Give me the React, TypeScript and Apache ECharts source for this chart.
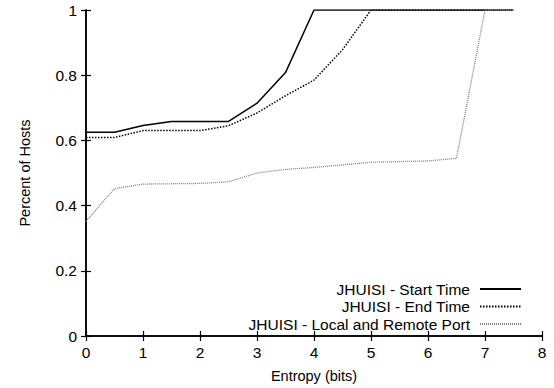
import React, { useEffect, useRef } from "react";
import * as echarts from "echarts";

const xValues = [0, 0.5, 1, 1.5, 2, 2.5, 3, 3.5, 4, 4.5, 5, 5.5, 6, 6.5, 7, 7.5];
const startTime = [0.625, 0.625, 0.646, 0.658, 0.658, 0.658, 0.714, 0.808, 1, 1, 1, 1, 1, 1, 1, 1];
const endTime = [0.609, 0.609, 0.63, 0.63, 0.63, 0.645, 0.684, 0.737, 0.785, 0.878, 1, 1, 1, 1, 1, 1];
const portValues = [0.352, 0.452, 0.466, 0.467, 0.468, 0.473, 0.5, 0.511, 0.517, 0.525, 0.533, 0.535, 0.537, 0.545, 1, 1];
const seriesNames = ["JHUISI - Start Time", "JHUISI - End Time", "JHUISI - Local and Remote Port"];

const FONT = "Liberation Sans, Arial, Helvetica, sans-serif";

export default function App() {
  const ref = useRef<HTMLDivElement>(null);
  useEffect(() => {
    if (!ref.current) return;
    const chart = echarts.init(ref.current, undefined, { renderer: "svg" });
    const pairs = (ys: number[]) => xValues.map((x, i) => [x, ys[i]]);
    const axisLine = { show: true, lineStyle: { color: "#000", width: 1.5 } };
    const tick = { show: true, inside: true, length: 5, lineStyle: { color: "#000", width: 1.2 } };
    chart.setOption({
      animation: false,
      backgroundColor: "#fff",
      textStyle: { fontFamily: FONT },
      grid: { left: 86, right: 12, top: 10, bottom: 51.5 },
      xAxis: [
        {
          type: "value",
          min: 0,
          max: 8,
          interval: 1,
          position: "bottom",
          name: "Entropy (bits)",
          nameLocation: "middle",
          nameGap: 32,
          nameTextStyle: { color: "#000", fontSize: 14.5, fontFamily: FONT },
          axisLine,
          axisTick: tick,
          splitLine: { show: false },
          axisLabel: { color: "#000", fontSize: 15.5, fontFamily: FONT, margin: 8 },
        },
        {
          type: "value",
          min: 0,
          max: 8,
          interval: 1,
          position: "top",
          axisLine,
          axisTick: tick,
          splitLine: { show: false },
          axisLabel: { show: false },
        },
      ],
      yAxis: [
        {
          type: "value",
          min: 0,
          max: 1,
          interval: 0.2,
          position: "left",
          name: "Percent of Hosts",
          nameLocation: "middle",
          nameGap: 54,
          nameTextStyle: { color: "#000", fontSize: 14.5, fontFamily: FONT },
          axisLine,
          axisTick: tick,
          splitLine: { show: false },
          axisLabel: { color: "#000", fontSize: 15.5, fontFamily: FONT, margin: 9 },
        },
        {
          type: "value",
          min: 0,
          max: 1,
          interval: 0.2,
          position: "right",
          axisLine,
          axisTick: tick,
          splitLine: { show: false },
          axisLabel: { show: false },
        },
      ],
      legend: {
        orient: "vertical",
        right: 32,
        bottom: 56,
        padding: 0,
        align: "right",
        itemWidth: 41,
        itemHeight: 14,
        itemGap: 1.5,
        itemStyle: { opacity: 0 },
        textStyle: { color: "#000", fontSize: 15.5, fontFamily: FONT, padding: [0, 5, 0, 0] },
        data: seriesNames,
      },
      series: [
        {
          name: seriesNames[0],
          type: "line",
          data: pairs(startTime),
          symbol: "none",
          lineStyle: { color: "#000", width: 1.5, type: "solid" },
          itemStyle: { color: "#000" },
        },
        {
          name: seriesNames[1],
          type: "line",
          data: pairs(endTime),
          symbol: "none",
          lineStyle: { color: "#000", width: 1.5, type: [1.5, 1.5] },
          itemStyle: { color: "#000" },
        },
        {
          name: seriesNames[2],
          type: "line",
          data: pairs(portValues),
          symbol: "none",
          lineStyle: { color: "#808080", width: 1.3, type: [1, 1] },
          itemStyle: { color: "#808080" },
        },
      ],
    });
    return () => chart.dispose();
  }, []);
  return (
    <div
      ref={ref}
      style={{ position: "fixed", left: 0, top: 0, width: 554, height: 388, background: "#fff" }}
    />
  );
}
